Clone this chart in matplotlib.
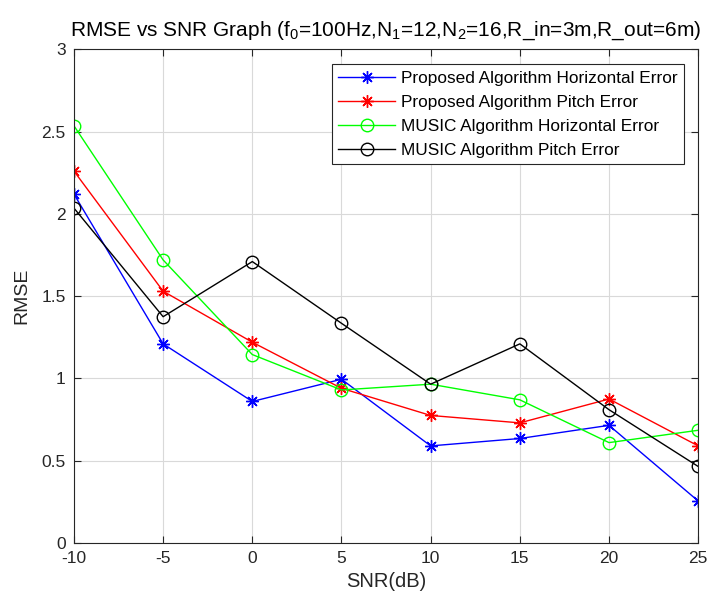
import matplotlib
matplotlib.use("Agg")
import matplotlib.pyplot as plt

plt.rcParams['font.family'] = ['Liberation Sans', 'DejaVu Sans']
plt.rcParams['mathtext.fontset'] = 'custom'
plt.rcParams['mathtext.rm'] = 'Liberation Sans'
plt.rcParams['axes.unicode_minus'] = False

snr = [-10, -5, 0, 5, 10, 15, 20, 25]
prop_horizontal = [2.12, 1.21, 0.86, 0.995, 0.59, 0.635, 0.715, 0.255]
prop_pitch = [2.26, 1.53, 1.22, 0.94, 0.775, 0.73, 0.875, 0.59]
music_horizontal = [2.535, 1.72, 1.145, 0.93, 0.965, 0.87, 0.61, 0.685]
music_pitch = [2.035, 1.375, 1.71, 1.335, 0.965, 1.21, 0.81, 0.465]

labels = ['Proposed Algorithm Horizontal Error',
          'Proposed Algorithm Pitch Error',
          'MUSIC Algorithm Horizontal Error',
          'MUSIC Algorithm Pitch Error']

# MATLAB style asterisk: plus + cross
star = (8, 2, 0)

fig = plt.figure(figsize=(7.11, 6.01), dpi=100)
ax = fig.add_axes([0.104, 0.0965, 0.878, 0.8215])

ax.plot(snr, prop_horizontal, color='#0000ff', marker=star, markersize=9, mew=1, lw=1, label=labels[0])
ax.plot(snr, prop_pitch, color='#ff0000', marker=star, markersize=9, mew=1, lw=1, label=labels[1])
ax.plot(snr, music_horizontal, color='#00ff00', marker='o', markersize=9, mfc='none', lw=1, label=labels[2])
ax.plot(snr, music_pitch, color='#000000', marker='o', markersize=9, mfc='none', lw=1, label=labels[3])

ax.set_xlim(-10, 25)
ax.set_ylim(0, 3)
ax.set_xticks(snr)
ax.set_yticks([0, 0.5, 1, 1.5, 2, 2.5, 3])
ax.set_yticklabels(['0', '0.5', '1', '1.5', '2', '2.5', '3'])
ax.grid(True, color='#d9d9d9', lw=0.8)
ax.set_axisbelow(True)
ax.tick_params(direction='in', labelsize=12.5, colors='#262626', top=True, right=True, length=5)
ax.tick_params(axis='x', pad=6)
ax.tick_params(axis='y', pad=6)
for s in ax.spines.values():
    s.set_color('#262626')
    s.set_linewidth(0.8)

ax.set_xlabel('SNR(dB)', fontsize=14.5, color='#262626', labelpad=4)
ax.set_ylabel('RMSE', fontsize=14, color='#262626', labelpad=8)
ax.set_title(r'RMSE vs SNR Graph (f$_0$=100Hz,N$_1$=12,N$_2$=16,R_in=3m,R_out=6m)',
             fontsize=15, pad=10)

leg = ax.legend(loc='upper right', bbox_to_anchor=(0.9776, 0.9696), fontsize=12.4,
                fancybox=False, framealpha=1, edgecolor='#262626',
                borderpad=0.38, labelspacing=0.52, handlelength=3.3, handletextpad=0.35,
                borderaxespad=0)
leg.get_frame().set_linewidth(0.8)

fig.savefig('out.png', dpi=100)
